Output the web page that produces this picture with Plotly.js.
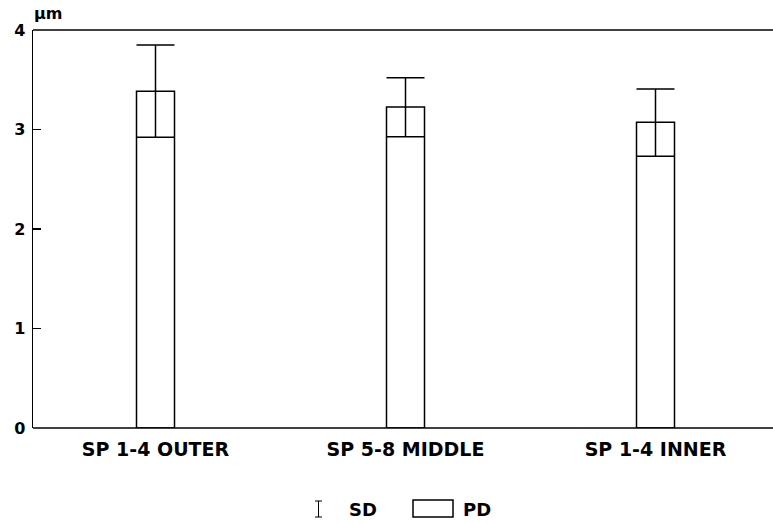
<!DOCTYPE html>
<html>
<head>
<meta charset="utf-8">
<script src="https://cdn.plot.ly/plotly-3.0.1.min.js"></script>
<style>html,body{margin:0;padding:0;background:#fff;overflow:hidden;}#chart{width:773px;height:524px;}</style>
</head>
<body>
<div id="chart"></div>
<script>
// Data
const categories = ["SP 1-4 OUTER", "SP 5-8 MIDDLE", "SP 1-4 INNER"];
const pdValues = [3.385, 3.225, 3.073];
const sdUpper = [0.465, 0.296, 0.335];
const sdLower = [0.464, 0.297, 0.343];
const yTicks = [0, 1, 2, 3, 4];
const yUnit = "µm";
const legendLabels = ["SD", "PD"];

// Layout helpers (pixel -> paper)
const W = 773, H = 524;
const M = {l: 33, r: 2, t: 30, b: 96};
const PW = W - M.l - M.r, PH = H - M.t - M.b;
const px = x => (x - M.l) / PW;
const py = y => (H - M.b - y) / PH;

const fontFam = "DejaVu Sans, Arial, sans-serif";

const trace = {
  type: "bar",
  x: categories,
  y: pdValues,
  width: 0.152,
  marker: {color: "rgba(255,255,255,0)", line: {color: "#000", width: 1.5}},
  error_y: {
    type: "data",
    symmetric: false,
    array: sdUpper,
    arrayminus: sdLower,
    color: "#000",
    thickness: 1.5,
    width: 19,
    visible: true
  },
  hoverinfo: "none",
  showlegend: false
};

const shapes = [
  // top and bottom frame lines, running to the right edge of the page
  {type: "line", xref: "paper", yref: "paper", x0: 0, x1: px(773), y0: 1, y1: 1, line: {color: "#000", width: 1.5}},
  {type: "line", xref: "paper", yref: "paper", x0: 0, x1: px(773), y0: 0, y1: 0, line: {color: "#000", width: 1.5}},
  // legend "I" symbol
  {type: "line", xref: "paper", yref: "paper", x0: px(318.5), x1: px(318.5), y0: py(501), y1: py(517), line: {color: "#000", width: 1}},
  {type: "line", xref: "paper", yref: "paper", x0: px(315), x1: px(322), y0: py(501), y1: py(501), line: {color: "#000", width: 1}},
  {type: "line", xref: "paper", yref: "paper", x0: px(315), x1: px(322), y0: py(517), y1: py(517), line: {color: "#000", width: 1}},
  // legend PD box
  {type: "rect", xref: "paper", yref: "paper", x0: px(413), x1: px(453), y0: py(500), y1: py(517), line: {color: "#000", width: 1.5}, fillcolor: "rgba(0,0,0,0)"}
];

const annotations = [
  {text: "<b>" + yUnit + "</b>", xref: "paper", yref: "paper", x: px(32), y: py(13), xanchor: "left", yanchor: "middle", showarrow: false, font: {family: fontFam, size: 16, color: "#000"}},
  {text: "<b>" + legendLabels[0] + "</b>", xref: "paper", yref: "paper", x: px(362.5), y: py(509), xanchor: "center", yanchor: "middle", showarrow: false, font: {family: fontFam, size: 18, color: "#000"}},
  {text: "<b>" + legendLabels[1] + "</b>", xref: "paper", yref: "paper", x: px(476.5), y: py(509), xanchor: "center", yanchor: "middle", showarrow: false, font: {family: fontFam, size: 18, color: "#000"}}
];

const layout = {
  width: W, height: H,
  margin: M,
  paper_bgcolor: "#fff",
  plot_bgcolor: "#fff",
  showlegend: false,
  xaxis: {
    type: "category",
    range: [-0.49, 2.47 - 2 / 250],
    showline: false,
    ticks: "",
    showgrid: false, zeroline: false,
    ticklabelstandoff: 8,
    tickfont: {family: fontFam, size: 19, color: "#000", weight: "bold"}
  },
  yaxis: {
    range: [0, 4],
    tickvals: yTicks,
    ticktext: yTicks.map(String),
    showline: true, linecolor: "#000", linewidth: 1.5,
    ticks: "inside", ticklen: 8, tickwidth: 1.2, tickcolor: "#000",
    showgrid: false, zeroline: false,
    ticklabelstandoff: 3,
    tickfont: {family: fontFam, size: 16, color: "#000", weight: "bold"}
  },
  shapes: shapes,
  annotations: annotations
};

Plotly.newPlot("chart", [trace], layout, {displayModeBar: false, staticPlot: true});
</script>
</body>
</html>
